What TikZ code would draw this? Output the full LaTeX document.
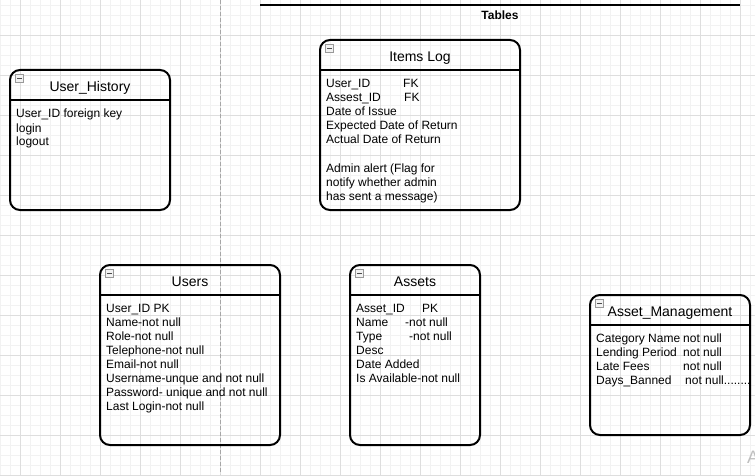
\documentclass[tikz,border=0pt]{standalone}
\usepackage{fontspec}
\setmainfont{Liberation Sans}
\newcommand\traildots{........}
\begin{document}
\begin{tikzpicture}[x=1pt,y=-1pt,
  tbl/.style={draw=black,line width=2pt,rounded corners=10pt},
  hdr/.style={draw=black,line width=2pt},
  ttl/.style={anchor=base,inner sep=0pt,font=\fontsize{14}{16}\selectfont},
  row/.style={anchor=base west,inner sep=0pt,font=\fontsize{12}{14}\selectfont},
  mini/.style={draw=gray!80,fill=gray!10,line width=0.6pt,minimum size=7.5pt,inner sep=0pt},
]
\useasboundingbox (0,0) rectangle (755,476);
\clip (0,0) rectangle (755,476);
% grid
\foreach \x in {0,10,...,750} \draw[color=black!5,line width=0.6pt] (\x,0) -- (\x,476);
\foreach \y in {5,15,...,475} \draw[color=black!5,line width=0.6pt] (0,\y) -- (755,\y);
\foreach \x in {20,60,...,740} \draw[color=black!13,line width=0.8pt] (\x,0) -- (\x,476);
\foreach \y in {35,75,...,475} \draw[color=black!13,line width=0.8pt] (0,\y) -- (755,\y);
% dashed divider and top rule
\coordinate (d1) at (220,0); \coordinate (d2) at (220,474);
\draw[color=black!35,dashed,dash pattern=on 4pt off 2pt,line width=0.8pt] (d1) -- (d2);
\coordinate (t1) at (260,5); \coordinate (t2) at (740,5);
\draw[line width=1.2pt] (t1) -- (t2);
\node[anchor=base,inner sep=0pt,font=\fontsize{12}{14}\selectfont\bfseries] (tables) at (500,20) {Tables};

% User_History
\draw[tbl] (10,70) rectangle (170,210);
\draw[hdr] (10,100) -- (170,100);
\node[mini] (uhm) at (19.5,78.5) {}; \draw[line width=0.8pt,color=black!70] (17,78.5) -- (22,78.5);
\node[ttl] (uht) at (90,91.5) {User\_History};
\foreach \t [count=\i] in {User\_ID foreign key,login,logout}
  \node[row,name=uh\i] at (16,104+14*\i) {\t};

% Items Log
\draw[tbl] (320,40) rectangle (520,210);
\draw[hdr] (320,70) -- (520,70);
\node[mini] (ilm) at (329.5,48.5) {}; \draw[line width=0.8pt,color=black!70] (327,48.5) -- (332,48.5);
\node[ttl] (ilt) at (420,61.5) {Items Log};
\foreach \t [count=\i] in {\makebox[77pt][l]{User\_ID}FK,\makebox[78pt][l]{Assest\_ID}FK,Date of Issue,Expected Date of Return,Actual Date of Return,{},Admin alert (Flag for,notify whether admin,has sent a message)}
  \node[row,name=il\i] at (326,74+14*\i) {\t};

% Users
\draw[tbl] (100,265) rectangle (280,445);
\draw[hdr] (100,295) -- (280,295);
\node[mini] (usm) at (109.5,273.5) {}; \draw[line width=0.8pt,color=black!70] (107,273.5) -- (112,273.5);
\node[ttl] (ust) at (190,286) {Users};
\foreach \t [count=\i] in {User\_ID PK,Name-not null,Role-not null,Telephone-not null,Email-not null,Username-unque and not null,Password- unique and not null,Last Login-not null}
  \node[row,name=us\i] at (106,298+14*\i) {\t};

% Assets
\draw[tbl] (350,265) rectangle (480,445);
\draw[hdr] (350,295) -- (480,295);
\node[mini] (asm) at (359.5,273.5) {}; \draw[line width=0.8pt,color=black!70] (357,273.5) -- (362,273.5);
\node[ttl] (ast) at (415,286) {Assets};
\foreach \t [count=\i] in {\makebox[66pt][l]{Asset\_ID}PK,\makebox[49pt][l]{Name}-not null,\makebox[53pt][l]{Type}-not null,Desc,Date Added,Is Available-not null}
  \node[row,name=as\i] at (356,298+14*\i) {\t};

% Asset_Management
\draw[tbl] (590,295) rectangle (750,435);
\draw[hdr] (590,325) -- (750,325);
\node[mini] (amm) at (599.5,303.5) {}; \draw[line width=0.8pt,color=black!70] (597,303.5) -- (602,303.5);
\node[ttl] (amt) at (670,316.5) {Asset\_Management};
\foreach \t [count=\i] in {\makebox[87pt][l]{Category Name}not null,\makebox[87pt][l]{Lending Period}not null,\makebox[87pt][l]{Late Fees}not null,\makebox[89pt][l]{Days\_Banned}not null\traildots}
  \node[row,name=am\i] at (596,328+14*\i) {\t};

% faint watermark letter
\node[anchor=base west,inner sep=0pt,font=\fontsize{18}{20}\selectfont,color=black!25] (wm) at (747,463) {A};
\end{tikzpicture}
\end{document}
